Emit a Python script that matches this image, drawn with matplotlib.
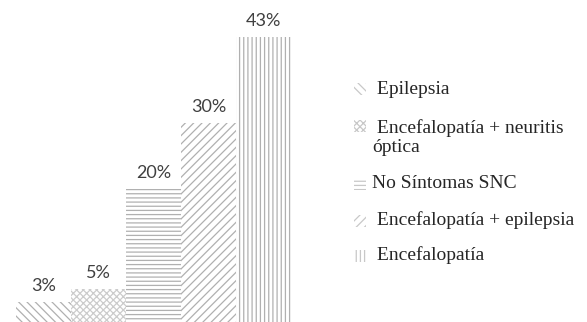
import matplotlib.pyplot as plt
from matplotlib.patches import Rectangle

# Manifestaciones del SNC
categorias = [" Epilepsia", " Encefalopatía + neuritis\nóptica", "No Síntomas SNC",
              " Encefalopatía + epilepsia", " Encefalopatía"]
porcentajes = [3, 5, 20, 30, 43]
etiquetas = ["3%", "5%", "20%", "30%", "43%"]
tramas = ["\\\\\\\\", "xxxxx", "----", "////", "||||"]
grises = ["#b0b0b0", "#cccccc", "#b0b0b0", "#b0b0b0", "#b0b0b0"]

plt.rcParams['hatch.linewidth'] = 0.9

fig = plt.figure(figsize=(5.87, 3.22), dpi=100)
ax = fig.add_axes([16 / 587, 0, 275 / 587, 1])

x = range(len(porcentajes))
barras = ax.bar(x, porcentajes, width=1.0, color="white", edgecolor=grises,
                linewidth=0, hatch=tramas)
for xi, v, t in zip(x, porcentajes, etiquetas):
    ax.annotate(t, (xi, v), xytext=(0, 6), textcoords="offset points",
                ha="center", va="bottom", fontsize=13, color="#404040",
                family="Lato")

ax.set_xlim(-0.5, 4.5)
ax.set_ylim(0, 48.6)
ax.axis("off")

# leyenda a la derecha
pos_y = [90, 128, 183, 220, 255]
caja_y = [89, 126, 184, 221, 256]
for cat, tr, y, cy in zip(categorias, tramas, pos_y, caja_y):
    fig.patches.append(Rectangle((354 / 587, 1 - (cy + 6) / 322), 12 / 587, 12 / 322,
                                 transform=fig.transFigure, facecolor="white",
                                 edgecolor="#c8c8c8", linewidth=0, hatch=tr))
    for i, linea in enumerate(cat.split("\n")):
        fig.text(372 / 587, 1 - (y + 20 * i) / 322, linea, ha="left", va="center",
                 fontsize=14, family="Liberation Serif", color="#262626")

fig.savefig("out.png", dpi=100)
